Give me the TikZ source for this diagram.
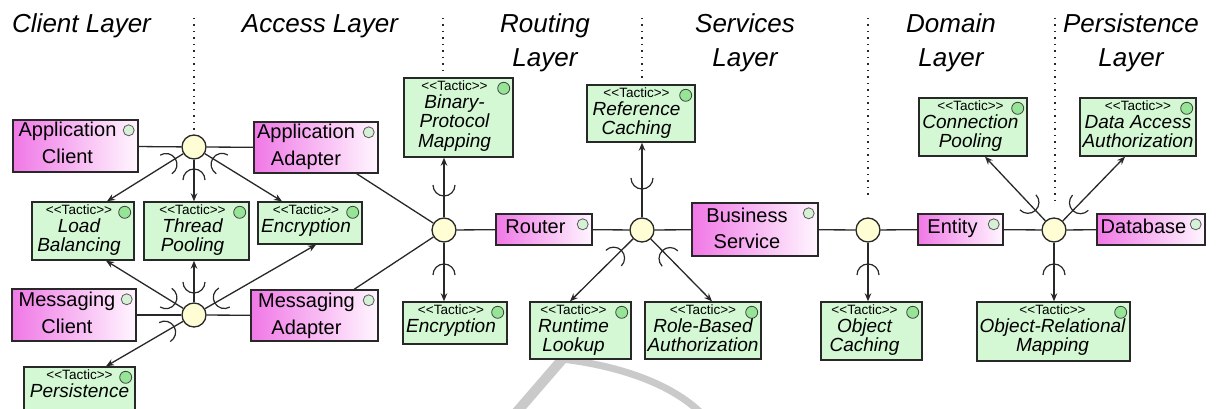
\documentclass[tikz,border=0pt]{standalone}
\usepackage{fontspec}
\setmainfont{Liberation Sans}
\usetikzlibrary{arrows.meta,calc}

\definecolor{pinkL}{RGB}{240,120,230}
\definecolor{pinkR}{RGB}{255,246,255}
\definecolor{tacfill}{RGB}{212,247,212}
\definecolor{tacdot}{RGB}{150,228,150}
\definecolor{compdot}{RGB}{214,240,214}
\definecolor{hubfill}{RGB}{255,253,212}
\definecolor{ink}{RGB}{40,40,40}
\definecolor{logogray}{RGB}{202,202,202}

% centred lines with a fixed baseline distance; baseline = first line
\newcommand\stack[1]{\vtop{\lineskiplimit=-\maxdimen\halign{\hfil##\hfil\cr#1\crcr}}}

\tikzset{
  comp/.style={draw=ink, line width=1.4pt, left color=pinkL, right color=pinkR, inner sep=0pt},
  tac/.style={draw=ink, line width=1.4pt, fill=tacfill, inner sep=0pt},
  cdot/.style={circle, draw=black!65, fill=compdot, line width=0.8pt, minimum size=11pt, inner sep=0pt},
  tdot/.style={circle, draw=black!75, fill=tacdot, line width=0.8pt, minimum size=12pt, inner sep=0pt},
  ctext/.style={anchor=base, inner sep=0pt, font=\fontsize{20}{26.5}\selectfont},
  stereo/.style={anchor=base, inner sep=0pt, font=\fontsize{13.5}{13.5}\selectfont},
  tname/.style={anchor=base, inner sep=0pt, font=\itshape\fontsize{19}{19.5}\selectfont},
  title/.style={anchor=base, inner sep=0pt, font=\itshape\fontsize{26}{34}\selectfont},
  hub/.style={circle, draw=ink, fill=hubfill, line width=1.3pt, minimum size=24pt, inner sep=0pt},
  conn/.style={draw=ink, line width=1.3pt},
  arr/.style={conn, -{Stealth[length=8pt,width=6.5pt]}},
  sock/.style={draw=ink, line width=1.2pt},
  sep/.style={draw=ink, line width=1.3pt, dash pattern=on 1.3pt off 5.2pt},
  logostroke/.style={draw=logogray},
}

% #1 style, #2 name, #3..#6 corners
\newcommand\boxat[6]{%
  \node[#1, minimum width={#5pt-#3pt}, minimum height={#6pt-#4pt}] (#2)
    at ({(#3+#5)/2},{(#4+#6)/2}) {};}

% component: name, x1, y1, x2, y2, text shift, first baseline, text
\newcommand\component[8]{%
  \boxat{comp}{#1}{#2}{#3}{#4}{#5}
  \node[cdot] (#1-dot) at ([xshift=-10pt,yshift=-11pt]#1.north east) {};
  \node[ctext] (#1-txt) at ([xshift=#6pt,yshift=-#7pt]#1.north) {\stack{#8}};}

% tactic: name, x1, y1, x2, y2, text shift, name text
\newcommand\tactic[7]{%
  \boxat{tac}{#1}{#2}{#3}{#4}{#5}
  \node[tdot] (#1-dot) at ([xshift=-10pt,yshift=-11pt]#1.north east) {};
  \node[stereo] (#1-st) at ([xshift=#6pt,yshift=-13.5pt]#1.north) {<\kern0pt<Tactic>\kern0pt>};
  \node[tname] (#1-nm) at ([xshift=#6pt,yshift=-31pt]#1.north) {\stack{#7}};}

% required-interface socket on the connector from hub #1 to #2, #3 from the hub
\newcommand\socket[3]{%
  \draw[sock] let \p1=($(#2)-(#1.center)$), \n1={atan2(\y1,\x1)} in
    ($(#1.center)!#3!(#2)$) ++(\n1+90:11pt)
    arc[start angle=\n1+90, end angle=\n1+270, radius=11pt];}

\begin{document}
\begin{tikzpicture}[x=1pt, y=-1pt]
\useasboundingbox (0,0) rectangle (1216,409);
\clip (0,0) rectangle (1216,409);
\fill[white] (0,0) rectangle (1216,409);

% faint publisher logo behind the lower middle
\draw[logostroke, line width=10pt] (515,414) -- (566,355);
\draw[logostroke, line width=7pt] (562,359) .. controls (620,366) and (672,384) .. (702,414);

% layer titles
\node[title, anchor=base west] (tclient) at (12,33) {Client Layer};
\node[title] (taccess) at (320,33) {Access Layer};
\node[title] (trouting) at (545,33) {\stack{Routing\cr Layer}};
\node[title] (tservices) at (745,33) {\stack{Services\cr Layer}};
\node[title] (tdomain) at (951,33) {\stack{Domain\cr Layer}};
\node[title] (tpersist) at (1131,33) {\stack{Persistence\cr Layer}};

% layer separators
\draw[sep] (194,18) -- (194,130);
\draw[sep] (443,18) -- (443,74);
\draw[sep] (642,18) -- (642,80);
\draw[sep] (868,18) -- (868,198);
\draw[sep] (1055,18) -- (1055,204);

% components
\component{AC}{13}{120}{138}{172}{-8}{17.5}{Application\cr Client}
\component{AA}{254}{122}{378}{173}{-10}{17.5}{Application\cr Adapter}
\component{MC}{12}{289}{136}{341}{-7}{18.5}{Messaging\cr Client}
\component{MA}{251}{290}{378}{341}{-8}{18.5}{Messaging\cr Adapter}
\component{RT}{496}{214}{592}{245}{-8.5}{20.5}{Router}
\component{BS}{692}{203}{818}{256}{-8}{20}{Business\cr Service}
\component{EN}{918}{214}{1003}{245}{-8}{20.5}{Entity}
\component{DB}{1097}{214}{1205}{245}{-7.5}{20.5}{Database}

% tactics
\tactic{LB}{32}{202}{134}{260}{-4}{Load\cr Balancing}
\tactic{TP}{144}{202}{249}{260}{-4}{Thread\cr Pooling}
\tactic{EA}{258}{202}{362}{244}{-4}{Encryption}
\tactic{PE}{24}{367}{135}{420}{0}{Persistence}
\tactic{BPM}{404}{78}{513}{157}{-4}{Binary-\cr Protocol\cr Mapping}
\tactic{EB}{403}{302}{507}{344}{-4}{Encryption}
\tactic{RC}{587}{85}{695}{142}{-4.5}{Reference\cr Caching}
\tactic{RL}{530}{302}{631}{359}{-7}{Runtime\cr Lookup}
\tactic{RBA}{645}{302}{761}{359}{0}{Role-Based\cr Authorization}
\tactic{OC}{821}{302}{922}{360}{-7}{Object\cr Caching}
\tactic{CP}{919}{98}{1027}{156}{-2.5}{Connection\cr Pooling}
\tactic{DAA}{1080}{98}{1196}{156}{0}{Data Access\cr Authorization}
\tactic{ORM}{977}{302}{1130}{361}{-1}{Object-Relational\cr Mapping}

% connection hubs
\node[hub] (H1) at (194,147) {};
\node[hub] (H2) at (194,315) {};
\node[hub] (H3) at (444,230) {};
\node[hub] (H4) at (642,230) {};
\node[hub] (H5) at (868,230) {};
\node[hub] (H6) at (1054,230) {};

% plain links
\draw[conn] (AC) -- (H1);
\draw[conn] (H1) -- (AA);
\draw[conn] (MC) -- (H2);
\draw[conn] (H2) -- (MA);
\draw[conn] (AA) -- (H3);
\draw[conn] (MA) -- (H3);
\draw[conn] (H3) -- (RT);
\draw[conn] (RT) -- (H4);
\draw[conn] (H4) -- (BS);
\draw[conn] (BS) -- (H5);
\draw[conn] (H5) -- (EN);
\draw[conn] (EN) -- (H6);
\draw[conn] (H6) -- (DB);

% tactic attachment points
\coordinate (t1) at ([xshift=24pt]LB.north);
\coordinate (t2) at (H1 |- TP.north);
\coordinate (t3) at ([xshift=-28pt]EA.north);
\coordinate (t4) at ([xshift=23pt]LB.south);
\coordinate (t5) at (H2 |- TP.south);
\coordinate (t6) at ([xshift=6pt]EA.south);
\coordinate (t7) at ([xshift=26.5pt]PE.north);
\coordinate (t8) at (H3 |- BPM.south);
\coordinate (t9) at (H3 |- EB.north);
\coordinate (t10) at (H4 |- RC.south);
\coordinate (t11) at ([xshift=-10.5pt]RL.north);
\coordinate (t12) at ([xshift=9pt]RBA.north);
\coordinate (t13) at (H5 |- OC.north);
\coordinate (t14) at ([xshift=12pt]CP.south);
\coordinate (t15) at ([xshift=-13pt]DAA.south);
\coordinate (t16) at (H6 |- ORM.north);

% tactic links with their sockets
\foreach \h/\t/\d in {H1/t1/33pt, H1/t2/33pt, H1/t3/33pt,
                      H2/t4/33pt, H2/t5/33pt, H2/t6/35pt, H2/t7/34pt,
                      H3/t8/45pt, H3/t9/45pt,
                      H4/t10/52pt, H4/t11/40pt, H4/t12/40pt,
                      H5/t13/45pt,
                      H6/t14/38pt, H6/t15/38pt, H6/t16/45pt} {
  \draw[arr] (\h) -- (\t);
  \socket{\h}{\t}{\d}
}
\end{tikzpicture}
\end{document}
